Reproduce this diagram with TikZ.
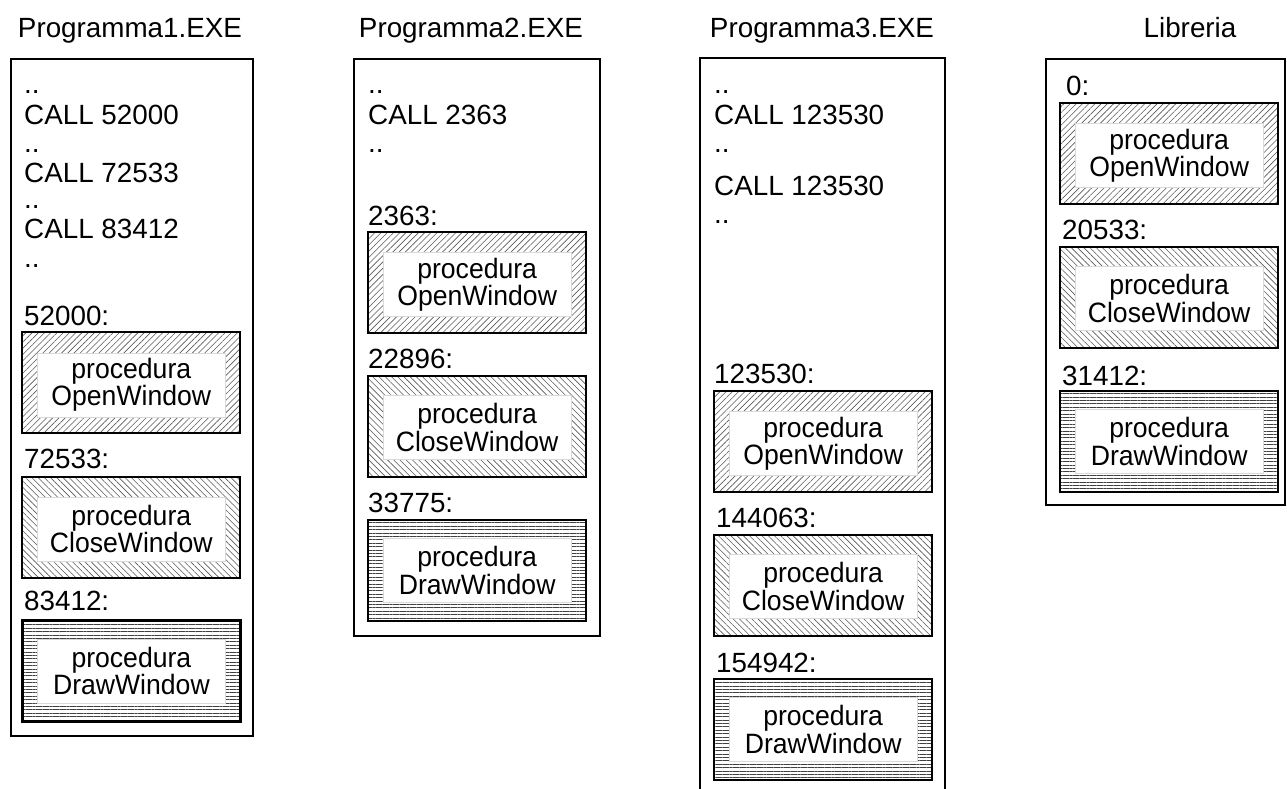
\documentclass[tikz,border=0pt]{standalone}
\usepackage{fontspec}
\setmainfont{Liberation Sans}
\newfontfamily\procfont[FakeStretch=0.95]{Liberation Sans}
\usetikzlibrary{patterns.meta}
\tikzset{
  txt/.style={anchor=base west, inner sep=0pt, font={\fontsize{27.8}{28}\selectfont}},
  ttl/.style={anchor=base, inner sep=0pt, font={\fontsize{27.8}{28}\selectfont}},
  outerbox/.style={draw, line width=2pt, anchor=north west, inner sep=0pt},
  procbox/.style={draw, line width=2.3pt, anchor=north west, inner sep=0pt, minimum width=218pt, minimum height=101pt},
  openpat/.style={pattern={Lines[angle=45,distance=4.4pt,line width=0.6pt]}, pattern color=black!65},
  closepat/.style={pattern={Lines[angle=-45,distance=4.4pt,line width=0.6pt]}, pattern color=black!65},
  drawpat/.style={pattern={Lines[angle=0,distance=3.4pt,line width=0.8pt]}, pattern color=black!75},
  innerbox/.style={fill=white, draw=black!15, line width=0.6pt, inner sep=0pt, minimum width=188pt, minimum height=64pt, align=center, font={\procfont\fontsize{28}{27.5}\selectfont}}
}
\begin{document}
\begin{tikzpicture}[x=1pt,y=-1pt]
\useasboundingbox (0,0) rectangle (1287,788);

% ---------- Programma1 ----------
\node[ttl] (t1) at (130,37) {Programma1.EXE};
\node[outerbox, minimum width=242pt, minimum height=677pt] (P1) at (10,58) {};
\node[txt] (p1d1) at (24,93) {..};
\node[txt] (p1c1) at (24,124) {CALL 52000};
\node[txt] (p1d2) at (24,152) {..};
\node[txt] (p1c2) at (24,182) {CALL 72533};
\node[txt] (p1d3) at (24,208) {..};
\node[txt] (p1c3) at (24,238) {CALL 83412};
\node[txt] (p1d4) at (24,267) {..};
\node[txt] (p1l1) at (24,325) {52000:};
\node[procbox, openpat] (p1a) at (22,332) {};
\node[innerbox] (p1ai) at ([yshift=-2pt]p1a.center) {procedura\\OpenWindow};
\node[txt] (p1l2) at (24,468) {72533:};
\node[procbox, closepat] (p1b) at (22,477) {};
\node[innerbox] (p1bi) at ([yshift=-1pt]p1b.center) {procedura\\CloseWindow};
\node[txt] (p1l3) at (24,610) {83412:};
\node[procbox, drawpat] (p1c) at (22,620) {};
\node[innerbox] (p1ci) at (p1c.center) {procedura\\DrawWindow};

% ---------- Programma2 ----------
\node[ttl] (t2) at (471,37) {Programma2.EXE};
\node[outerbox, minimum width=246pt, minimum height=577pt] (P2) at (353,58) {};
\node[txt] (p2d1) at (368,93) {..};
\node[txt] (p2c1) at (368,124) {CALL 2363};
\node[txt] (p2d2) at (368,152) {..};
\node[txt] (p2l1) at (368,225) {2363:};
\node[procbox, openpat] (p2a) at (367,231) {};
\node[innerbox] (p2ai) at ([yshift=-2pt]p2a.center) {procedura\\OpenWindow};
\node[txt] (p2l2) at (368,368) {22896:};
\node[procbox, closepat] (p2b) at (367,375) {};
\node[innerbox] (p2bi) at ([yshift=-1pt]p2b.center) {procedura\\CloseWindow};
\node[txt] (p2l3) at (368,512) {33775:};
\node[procbox, drawpat] (p2c) at (367,519) {};
\node[innerbox] (p2ci) at (p2c.center) {procedura\\DrawWindow};

% ---------- Programma3 ----------
\node[ttl] (t3) at (822,37) {Programma3.EXE};
\node[anchor=north west, inner sep=0pt, minimum width=245pt, minimum height=740pt] (P3) at (700,58) {};
\draw[line width=2pt] (P3.south west) -- (P3.north west) -- (P3.north east) -- (P3.south east);
\node[txt] (p3d1) at (714,93) {..};
\node[txt] (p3c1) at (714,124) {CALL 123530};
\node[txt] (p3d2) at (714,152) {..};
\node[txt] (p3c2) at (714,195) {CALL 123530};
\node[txt] (p3d3) at (714,223) {..};
\node[txt] (p3l1) at (714,383) {123530:};
\node[procbox, openpat] (p3a) at (713,390) {};
\node[innerbox] (p3ai) at ([yshift=-2pt]p3a.center) {procedura\\OpenWindow};
\node[txt] (p3l2) at (716,527) {144063:};
\node[procbox, closepat] (p3b) at (713,534) {};
\node[innerbox] (p3bi) at ([yshift=-1pt]p3b.center) {procedura\\CloseWindow};
\node[txt] (p3l3) at (716,672) {154942:};
\node[procbox, drawpat] (p3c) at (713,678) {};
\node[innerbox] (p3ci) at (p3c.center) {procedura\\DrawWindow};

% ---------- Libreria ----------
\node[ttl] (t4) at (1190,37) {Libreria};
\node[outerbox, minimum width=239pt, minimum height=446pt] (L) at (1045,58) {};
\node[txt] (ll1) at (1066,95) {0:};
\node[procbox, openpat] (la) at (1059,102) {};
\node[innerbox] (lai) at ([yshift=-2pt]la.center) {procedura\\OpenWindow};
\node[txt] (ll2) at (1062,239) {20533:};
\node[procbox, closepat] (lb) at (1059,246) {};
\node[innerbox] (lbi) at ([yshift=-1pt]lb.center) {procedura\\CloseWindow};
\node[txt] (ll3) at (1062,385) {31412:};
\node[procbox, drawpat] (lc) at (1059,390) {};
\node[innerbox] (lci) at (lc.center) {procedura\\DrawWindow};
\end{tikzpicture}
\end{document}
